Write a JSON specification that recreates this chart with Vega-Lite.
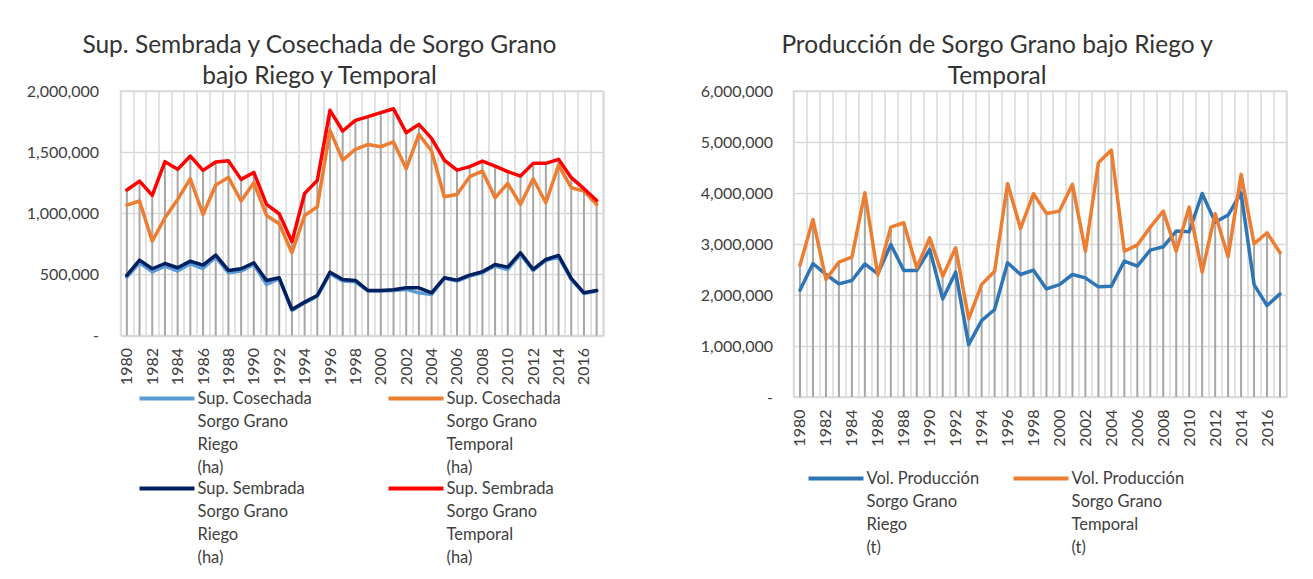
{
  "$schema": "https://vega.github.io/schema/vega-lite/v6.json",
  "background": "white",
  "padding": {"left": 25.5, "top": 31, "right": 5, "bottom": 5},
  "spacing": 94,
  "resolve": {"scale": {"color": "independent"}, "legend": {"color": "independent"}},
  "config": {
    "font": "Lato",
    "view": {"stroke": "#D9D9D9", "strokeWidth": 1.5},
    "style": {"guide-label": {"lineHeight": 23}},
    "axis": {"labelFont": "Lato", "labelFontSize": 16, "labelColor": "#404040", "title": null, "domain": false, "ticks": false, "gridColor": "#D9D9D9", "gridWidth": 1.5},
    "legend": {"labelFont": "Lato", "labelFontSize": 16.5, "labelColor": "#404040", "title": null, "labelLimit": 0},
    "title": {"font": "Lato", "fontSize": 24.5, "fontWeight": "normal", "color": "#333333", "anchor": "middle", "frame": "bounds", "lineHeight": 31, "offset": -6}
  },
  "data": {"values": [
    {"year": 1980, "cr": 477000, "ct": 1067000, "sr": 491000, "st": 1190000, "pr": 2094000, "pt": 2585000},
    {"year": 1981, "cr": 595000, "ct": 1100000, "sr": 617000, "st": 1263000, "pr": 2618000, "pt": 3482000},
    {"year": 1982, "cr": 521000, "ct": 772000, "sr": 546000, "st": 1146000, "pr": 2402000, "pt": 2304000},
    {"year": 1983, "cr": 568000, "ct": 963000, "sr": 589000, "st": 1422000, "pr": 2219000, "pt": 2644000},
    {"year": 1984, "cr": 527000, "ct": 1113000, "sr": 554000, "st": 1359000, "pr": 2284000, "pt": 2742000},
    {"year": 1985, "cr": 587000, "ct": 1282000, "sr": 608000, "st": 1468000, "pr": 2611000, "pt": 4005000},
    {"year": 1986, "cr": 548000, "ct": 990000, "sr": 576000, "st": 1351000, "pr": 2415000, "pt": 2389000},
    {"year": 1987, "cr": 641000, "ct": 1231000, "sr": 658000, "st": 1419000, "pr": 2991000, "pt": 3331000},
    {"year": 1988, "cr": 513000, "ct": 1293000, "sr": 532000, "st": 1430000, "pr": 2480000, "pt": 3416000},
    {"year": 1989, "cr": 527000, "ct": 1100000, "sr": 546000, "st": 1277000, "pr": 2480000, "pt": 2533000},
    {"year": 1990, "cr": 581000, "ct": 1250000, "sr": 595000, "st": 1334000, "pr": 2893000, "pt": 3122000},
    {"year": 1991, "cr": 417000, "ct": 982000, "sr": 450000, "st": 1072000, "pr": 1924000, "pt": 2369000},
    {"year": 1992, "cr": 464000, "ct": 914000, "sr": 472000, "st": 996000, "pr": 2448000, "pt": 2925000},
    {"year": 1993, "cr": 205000, "ct": 677000, "sr": 213000, "st": 767000, "pr": 1027000, "pt": 1531000},
    {"year": 1994, "cr": 267000, "ct": 982000, "sr": 273000, "st": 1162000, "pr": 1499000, "pt": 2205000},
    {"year": 1995, "cr": 322000, "ct": 1053000, "sr": 327000, "st": 1269000, "pr": 1715000, "pt": 2467000},
    {"year": 1996, "cr": 505000, "ct": 1678000, "sr": 518000, "st": 1842000, "pr": 2631000, "pt": 4188000},
    {"year": 1997, "cr": 445000, "ct": 1435000, "sr": 458000, "st": 1673000, "pr": 2402000, "pt": 3305000},
    {"year": 1998, "cr": 439000, "ct": 1522000, "sr": 450000, "st": 1760000, "pr": 2487000, "pt": 3986000},
    {"year": 1999, "cr": 363000, "ct": 1563000, "sr": 368000, "st": 1790000, "pr": 2120000, "pt": 3599000},
    {"year": 2000, "cr": 363000, "ct": 1544000, "sr": 368000, "st": 1823000, "pr": 2205000, "pt": 3645000},
    {"year": 2001, "cr": 368000, "ct": 1583000, "sr": 374000, "st": 1855000, "pr": 2402000, "pt": 4169000},
    {"year": 2002, "cr": 377000, "ct": 1364000, "sr": 390000, "st": 1659000, "pr": 2336000, "pt": 2860000},
    {"year": 2003, "cr": 349000, "ct": 1645000, "sr": 390000, "st": 1727000, "pr": 2160000, "pt": 4594000},
    {"year": 2004, "cr": 336000, "ct": 1509000, "sr": 349000, "st": 1613000, "pr": 2173000, "pt": 4843000},
    {"year": 2005, "cr": 467000, "ct": 1135000, "sr": 472000, "st": 1435000, "pr": 2664000, "pt": 2860000},
    {"year": 2006, "cr": 445000, "ct": 1154000, "sr": 453000, "st": 1353000, "pr": 2565000, "pt": 2978000},
    {"year": 2007, "cr": 486000, "ct": 1299000, "sr": 494000, "st": 1381000, "pr": 2880000, "pt": 3331000},
    {"year": 2008, "cr": 513000, "ct": 1345000, "sr": 521000, "st": 1427000, "pr": 2945000, "pt": 3645000},
    {"year": 2009, "cr": 568000, "ct": 1127000, "sr": 581000, "st": 1386000, "pr": 3253000, "pt": 2860000},
    {"year": 2010, "cr": 540000, "ct": 1244000, "sr": 559000, "st": 1340000, "pr": 3239000, "pt": 3724000},
    {"year": 2011, "cr": 663000, "ct": 1072000, "sr": 677000, "st": 1304000, "pr": 3990000, "pt": 2448000},
    {"year": 2012, "cr": 532000, "ct": 1282000, "sr": 540000, "st": 1408000, "pr": 3429000, "pt": 3593000},
    {"year": 2013, "cr": 614000, "ct": 1086000, "sr": 622000, "st": 1408000, "pr": 3567000, "pt": 2749000},
    {"year": 2014, "cr": 641000, "ct": 1394000, "sr": 655000, "st": 1441000, "pr": 4000000, "pt": 4365000},
    {"year": 2015, "cr": 458000, "ct": 1209000, "sr": 467000, "st": 1291000, "pr": 2205000, "pt": 3004000},
    {"year": 2016, "cr": 344000, "ct": 1181000, "sr": 349000, "st": 1201000, "pr": 1793000, "pt": 3220000},
    {"year": 2017, "cr": 363000, "ct": 1072000, "sr": 368000, "st": 1105000, "pr": 2022000, "pt": 2827000}
  ]},
  "hconcat": [
    {
      "width": 482.5,
      "height": 244.5,
      "title": {"text": ["Sup. Sembrada y Cosechada de Sorgo Grano", "bajo Riego y Temporal"], "dx": 4},
      "resolve": {"scale": {"color": "independent"}, "legend": {"color": "independent"}},
      "encoding": {
        "x": {"field": "year", "type": "ordinal", "bandPosition": 0.5,
          "scale": {"type": "band", "paddingInner": 0, "paddingOuter": 0},
          "axis": {"labelAngle": -90, "labelExpr": "datum.value % 2 == 0 ? datum.label : ''", "labelOverlap": false, "tickBand": "extent", "grid": true, "labelPadding": 12}}
      },
      "layer": [
        {
          "transform": [{"fold": ["cr", "ct", "sr", "st"], "as": ["serie", "value"]}],
          "mark": {"type": "rule", "color": "#A6A6A6", "strokeWidth": 2},
          "encoding": {
            "y": {"aggregate": "max", "field": "value", "type": "quantitative",
              "scale": {"domain": [0, 2000000]},
              "axis": {"values": [0, 500000, 1000000, 1500000, 2000000], "labelExpr": "datum.value == 0 ? '-\u00a0\u00a0\u00a0' : format(datum.value, ',')", "grid": true, "labelPadding": 22}},
            "y2": {"datum": 0}
          }
        },
        {
          "transform": [{"fold": ["cr", "ct"], "as": ["serie", "value"]}],
          "mark": {"type": "line", "strokeWidth": 3.5, "strokeJoin": "round", "strokeCap": "round"},
          "encoding": {
            "y": {"field": "value", "type": "quantitative"},
            "color": {"field": "serie", "type": "nominal",
              "scale": {"domain": ["cr", "ct"], "range": ["#5B9BD5", "#ED7D31"]},
              "legend": {"orient": "none", "legendX": 17, "legendY": 278, "columns": 2, "columnPadding": 68,
                "symbolType": "stroke", "symbolSize": 3025, "symbolStrokeWidth": 4, "labelOffset": 1, "labelBaseline": "middle",
                "labelExpr": "datum.value == 'cr' ? ['Sup. Cosechada','Sorgo Grano','Riego','(ha)'] : ['Sup. Cosechada','Sorgo Grano','Temporal','(ha)']"}}
          }
        },
        {
          "transform": [{"fold": ["sr", "st"], "as": ["serie2", "value"]}],
          "mark": {"type": "line", "strokeWidth": 3.5, "strokeJoin": "round", "strokeCap": "round"},
          "encoding": {
            "y": {"field": "value", "type": "quantitative"},
            "color": {"field": "serie2", "type": "nominal",
              "scale": {"domain": ["sr", "st"], "range": ["#002060", "#FF0000"]},
              "legend": {"orient": "none", "legendX": 17, "legendY": 368, "columns": 2, "columnPadding": 75,
                "symbolType": "stroke", "symbolSize": 3025, "symbolStrokeWidth": 4, "labelOffset": 1, "labelBaseline": "middle",
                "labelExpr": "datum.value == 'sr' ? ['Sup. Sembrada','Sorgo Grano','Riego','(ha)'] : ['Sup. Sembrada','Sorgo Grano','Temporal','(ha)']"}}
          }
        }
      ]
    },
    {
      "width": 493,
      "height": 306,
      "title": {"text": ["Producción de Sorgo Grano bajo Riego y", "Temporal"], "dx": 3},
      "transform": [{"fold": ["pr", "pt"], "as": ["serie", "value"]}],
      "encoding": {
        "x": {"field": "year", "type": "ordinal", "bandPosition": 0.5,
          "scale": {"type": "band", "paddingInner": 0, "paddingOuter": 0},
          "axis": {"labelAngle": -90, "labelExpr": "datum.value % 2 == 0 ? datum.label : ''", "labelOverlap": false, "tickBand": "extent", "grid": true, "labelPadding": 12}}
      },
      "layer": [
        {
          "mark": {"type": "rule", "color": "#A6A6A6", "strokeWidth": 2},
          "encoding": {
            "y": {"aggregate": "max", "field": "value", "type": "quantitative",
              "scale": {"domain": [0, 6000000]},
              "axis": {"values": [0, 1000000, 2000000, 3000000, 4000000, 5000000, 6000000], "labelExpr": "datum.value == 0 ? '-\u00a0\u00a0\u00a0' : format(datum.value, ',')", "grid": true, "labelPadding": 21}},
            "y2": {"datum": 0}
          }
        },
        {
          "mark": {"type": "line", "strokeWidth": 3.5, "strokeJoin": "round", "strokeCap": "round"},
          "encoding": {
            "y": {"field": "value", "type": "quantitative"},
            "color": {"field": "serie", "type": "nominal",
              "scale": {"domain": ["pr", "pt"], "range": ["#2E75B6", "#ED7D31"]},
              "legend": {"orient": "none", "legendX": 13, "legendY": 358, "columns": 2, "columnPadding": 26,
                "symbolType": "stroke", "symbolSize": 3025, "symbolStrokeWidth": 4, "labelOffset": 1, "labelBaseline": "middle",
                "labelExpr": "datum.value == 'pr' ? ['Vol. Producción','Sorgo Grano','Riego','(t)'] : ['Vol. Producción','Sorgo Grano','Temporal','(t)']"}}
          }
        }
      ]
    }
  ]
}
